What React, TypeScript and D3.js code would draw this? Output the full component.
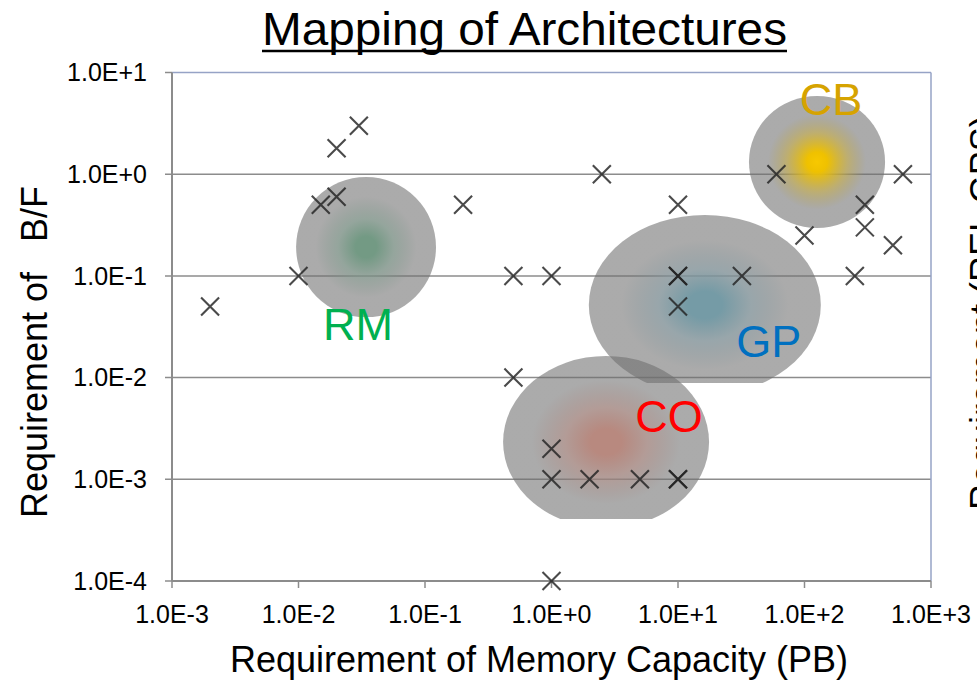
import React from "react";
import * as d3 from "d3";

// ---- data ----
const xTickValues = [1e-3, 1e-2, 1e-1, 1e0, 1e1, 1e2, 1e3];
const xTickLabels = ["1.0E-3", "1.0E-2", "1.0E-1", "1.0E+0", "1.0E+1", "1.0E+2", "1.0E+3"];
const yTickValues = [1e1, 1e0, 1e-1, 1e-2, 1e-3, 1e-4];
const yTickLabels = ["1.0E+1", "1.0E+0", "1.0E-1", "1.0E-2", "1.0E-3", "1.0E-4"];

// memory capacity (PB)
const pointX = [
  0.002, 0.01, 0.015, 0.02, 0.02, 0.03, 0.2,
  2.5, 10, 0.5, 1, 10, 10, 10, 32, 60, 600, 300, 300, 100, 500, 250,
  0.5, 1, 1, 2, 5, 10, 10, 1,
];
// B/F
const pointY = [
  0.05, 0.1, 0.5, 0.6, 1.8, 3, 0.5,
  1, 0.5, 0.1, 0.1, 0.1, 0.1, 0.05, 0.1, 1, 1, 0.5, 0.3, 0.25, 0.2, 0.1,
  0.01, 0.002, 0.001, 0.001, 0.001, 0.001, 0.001, 0.0001,
];

const groupNames = ["RM", "CB", "GP", "CO"];
const groupCx = [0.0342, 125.6, 16.3, 2.7];
const groupCy = [0.192, 1.318, 0.0518, 0.00233];

// ---- styles / layout ----
const W = 977;
const H = 683;
const FONT = "'Liberation Sans', Arial, Helvetica, sans-serif";

const groupStyle: Record<string, any> = {
  RM: { rx: 0.553, ry: 0.69, center: "#739a84", c2: "#739a84", mid: "#7a8f84", midAt: "40%", label: "#00B050", dx: -8, dy: 93, clipY: null, box: true },
  CB: { rx: 0.538, ry: 0.65, center: "#f7c800", c2: "#efc100", mid: "#ad9a4e", midAt: "45%", label: "#D6A300", dx: 14, dy: -47, clipY: null, box: false },
  GP: { rx: 0.917, ry: 0.885, center: "#759ba6", c2: "#759ba6", mid: "#7f9096", midAt: "40%", label: "#0070C0", dx: 64, dy: 52, clipY: 0.00885, box: false },
  CO: { rx: 0.814, ry: 0.846, center: "#b8897f", c2: "#b8897f", mid: "#a0837d", midAt: "40%", label: "#FF0000", dx: 63, dy: -10, clipY: 0.000407, box: false },
};

const x = d3.scaleLog().domain([1e-3, 1e3]).range([172, 931]);
const y = d3.scaleLog().domain([1e-4, 1e1]).range([581, 72.5]);

export default function App() {
  const [x0, x1] = x.range();
  const [y0, y1] = y.range(); // y0 bottom, y1 top
  const gridColor = "#8c8c8c";
  const frameColor = "#96a3c6";

  return (
    <svg
      width={W}
      height={H}
      style={{ position: "absolute", left: 0, top: 0, background: "#fff" }}
      fontFamily={FONT}
    >
      <defs>
        {groupNames.map((g) => {
          const s = groupStyle[g];
          return (
            <radialGradient id={`grad-${g}`} key={g} cx="50%" cy="50%" r="50%">
              <stop offset="0%" stopColor={s.center} stopOpacity={1} />
              <stop offset="15%" stopColor={s.c2} stopOpacity={1} />
              <stop offset={s.midAt} stopColor={s.mid} stopOpacity={0.8} />
              <stop offset="72%" stopColor="#6e6e6e" stopOpacity={0.58} />
              <stop offset="100%" stopColor="#6e6e6e" stopOpacity={0.58} />
            </radialGradient>
          );
        })}
        {groupNames.map((g) => {
          const s = groupStyle[g];
          if (s.clipY == null) return null;
          return (
            <clipPath id={`clip-${g}`} key={g}>
              <rect x={0} y={0} width={W} height={y(s.clipY)} />
            </clipPath>
          );
        })}
      </defs>

      {/* title */}
      <text x={524.5} y={45} fontSize={46} textAnchor="middle" textLength={525} lengthAdjust="spacingAndGlyphs" fill="#000">
        Mapping of Architectures
      </text>
      <line x1={262} x2={787} y1={51} y2={51} stroke="#000" strokeWidth={2.5} />

      {/* gridlines + left ticks */}
      {yTickValues.map((v) => (
        <line
          key={"g" + v}
          x1={165}
          x2={v === 1e1 || v === 1e-4 ? x0 : x1}
          y1={y(v)}
          y2={y(v)}
          stroke={gridColor}
          strokeWidth={1.5}
        />
      ))}

      {/* frame top / right */}
      <line x1={x0} x2={x1} y1={y1} y2={y1} stroke={frameColor} strokeWidth={1.5} />
      <line x1={x1} x2={x1} y1={y1} y2={y0} stroke={frameColor} strokeWidth={1.5} />

      {/* blobs */}
      {groupNames.map((g, i) => {
        const s = groupStyle[g];
        const cx = x(groupCx[i]);
        const cy = y(groupCy[i]);
        const rx = x(groupCx[i] * Math.pow(10, s.rx)) - cx;
        const ry = cy - y(groupCy[i] * Math.pow(10, s.ry));
        return (
          <ellipse
            key={"e" + g}
            cx={cx}
            cy={cy}
            rx={rx}
            ry={ry}
            fill={`url(#grad-${g})`}
            clipPath={s.clipY != null ? `url(#clip-${g})` : undefined}
          />
        );
      })}

      {/* group labels */}
      {groupNames.map((g, i) => {
        const s = groupStyle[g];
        const lx = x(groupCx[i]) + s.dx;
        const ly = y(groupCy[i]) + s.dy;
        return (
          <g key={"l" + g}>
            {s.box && <rect x={lx - 40} y={ly - 23} width={80} height={34} fill="#fff" />}
            <text x={lx} y={ly} fontSize={45} textAnchor="middle" fill={s.label}>
              {g}
            </text>
          </g>
        );
      })}

      {/* axes */}
      <line x1={x0} x2={x0} y1={y1} y2={y0} stroke={gridColor} strokeWidth={2} />
      <line x1={x0} x2={x1} y1={y0} y2={y0} stroke={gridColor} strokeWidth={2} />
      {xTickValues.map((v) => (
        <line key={"xt" + v} x1={x(v)} x2={x(v)} y1={y0} y2={y0 + 7} stroke={gridColor} strokeWidth={1.5} />
      ))}

      {/* tick labels */}
      {xTickValues.map((v, i) => (
        <text key={"xl" + v} x={x(v)} y={623} fontSize={25} textAnchor="middle" fill="#000">
          {xTickLabels[i]}
        </text>
      ))}
      {yTickValues.map((v, i) => (
        <text key={"yl" + v} x={147} y={y(v)} dy="0.35em" fontSize={25} textAnchor="end" fill="#000">
          {yTickLabels[i]}
        </text>
      ))}

      {/* markers */}
      {pointX.map((px, i) => {
        const cx = x(px);
        const cy = y(pointY[i]);
        return (
          <path
            key={"p" + i}
            d={`M${cx - 9},${cy - 9}L${cx + 9},${cy + 9}M${cx - 9},${cy + 9}L${cx + 9},${cy - 9}`}
            stroke="#222"
            strokeOpacity={0.82}
            strokeWidth={2.1}
            fill="none"
          />
        );
      })}

      {/* axis titles */}
      <text x={539} y={672} fontSize={36} textAnchor="middle" fill="#000">
        Requirement of Memory Capacity (PB)
      </text>
      <text
        transform={`translate(47,${352}) rotate(-90)`}
        fontSize={36}
        textAnchor="middle"
        fill="#000"
        style={{ whiteSpace: "pre" }}
      >
        {"Requirement of   B/F"}
      </text>

      {/* cut-off secondary title at right edge */}
      <text transform={`translate(996,510) rotate(-90)`} fontSize={36} textAnchor="start" fill="#000">
        Requirement (REL GPS)
      </text>
    </svg>
  );
}
